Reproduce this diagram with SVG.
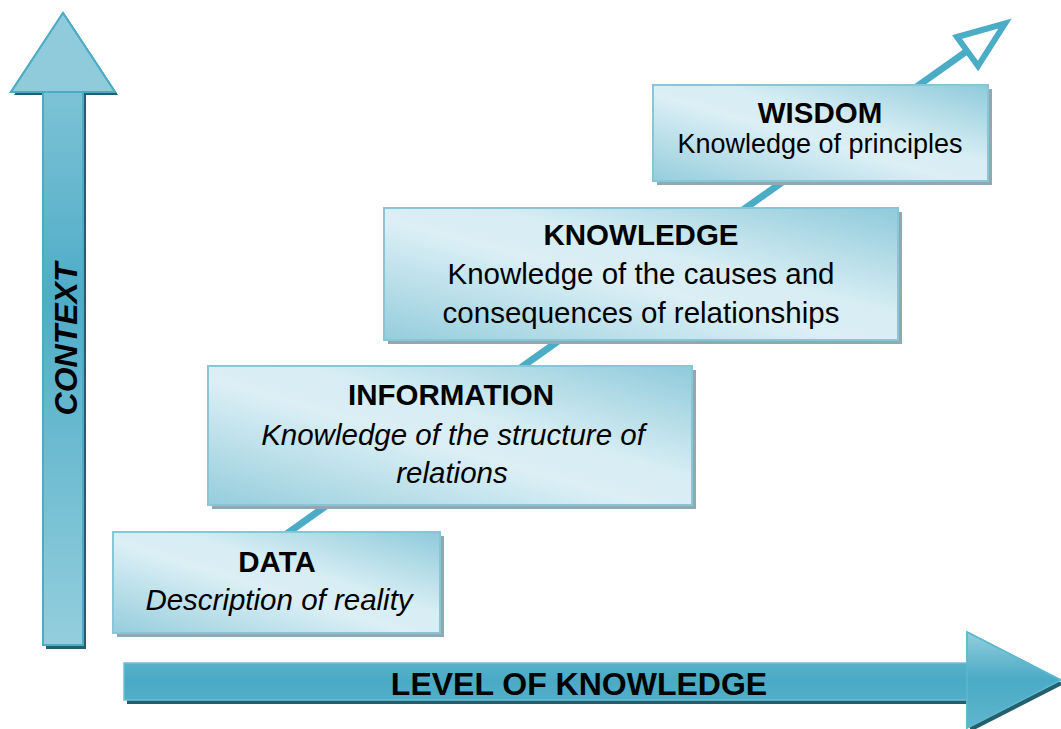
<svg xmlns="http://www.w3.org/2000/svg" width="1061" height="729" viewBox="0 0 1061 729">
<defs>
<linearGradient id="boxg" x1="0" y1="1" x2="1" y2="0">
<stop offset="0" stop-color="#95cddc"/>
<stop offset="0.45" stop-color="#dbeff5"/>
<stop offset="0.6" stop-color="#d6edf3"/>
<stop offset="1" stop-color="#8fcadb"/>
</linearGradient>
<linearGradient id="vshaft" x1="0" y1="0" x2="0" y2="1">
<stop offset="0" stop-color="#8ecbdb"/>
<stop offset="0.45" stop-color="#4eacc7"/>
<stop offset="1" stop-color="#93cedd"/>
</linearGradient>
<linearGradient id="hshaft" x1="0" y1="0" x2="0" y2="1">
<stop offset="0" stop-color="#70bfd4"/>
<stop offset="0.5" stop-color="#4aaac5"/>
<stop offset="1" stop-color="#5cb4cc"/>
</linearGradient>
<linearGradient id="hhead" x1="0" y1="0" x2="0" y2="1">
<stop offset="0" stop-color="#93cedd"/>
<stop offset="0.5" stop-color="#4aaac5"/>
<stop offset="1" stop-color="#5fb6cd"/>
</linearGradient>
</defs>
<style>
.shadow{fill:#90a9b0}
.box{fill:url(#boxg);stroke:#86c6d7;stroke-width:2}
.ashadow{fill:#235f6c}
.t{font-family:"Liberation Sans",Arial,sans-serif;font-size:29.5px;fill:#000;text-anchor:middle}
.b{font-weight:bold}
.i{font-style:italic}
</style>

<g id="axis-context">
<polygon class="ashadow" points="66,16 118,95 86,95 86,649 46,649 46,95 14,95"/>
<polygon points="63,13 115,92 83,92 83,645 43,645 43,92 11,92" fill="url(#vshaft)" stroke="#4bacc6" stroke-width="2"/>
<polygon points="63,13 115,92 11,92" fill="#8fcbdb" stroke="#4bacc6" stroke-width="2"/>
<text class="t b i" transform="translate(77,339) rotate(-90)" style="font-size:32px">CONTEXT</text>
</g>

<g id="axis-level">
<polygon class="ashadow" points="127,667 970,667 970,636 1064,684 970,732 970,704 127,704"/>
<polygon points="124,663 967,663 967,632 1061,680 967,728 967,700 124,700" fill="url(#hshaft)" stroke="#6cc0d5" stroke-width="1.5"/>
<polygon points="967,632 1061,680 967,728" fill="url(#hhead)" stroke="#5cb8ce" stroke-width="1.5"/>
<text class="t b" x="579" y="695" style="font-size:32px">LEVEL OF KNOWLEDGE</text>
</g>

<g id="connectors">
<line x1="285" y1="535" x2="967" y2="51" stroke="#4bacc6" stroke-width="7"/>
<polygon points="957,37 1005,23.5 978,66" fill="#fff" stroke="#4bacc6" stroke-width="6" stroke-linejoin="miter"/>
</g>

<g id="node-data">
<rect class="shadow" x="117" y="536" width="327" height="101"/>
<rect class="box" x="113" y="532" width="327" height="101"/>
<text class="t b" x="277" y="572">DATA</text>
<text class="t i" x="279" y="610">Description of reality</text>
</g>

<g id="node-information">
<rect class="shadow" x="212" y="370" width="484" height="139"/>
<rect class="box" x="208" y="366" width="484" height="139"/>
<text class="t b" x="451" y="405">INFORMATION</text>
<text class="t i" x="453" y="445">Knowledge of the structure of</text>
<text class="t i" x="452" y="483">relations</text>
</g>

<g id="node-knowledge">
<rect class="shadow" x="388" y="212" width="514" height="132"/>
<rect class="box" x="384" y="208" width="514" height="132"/>
<text class="t b" x="641" y="245">KNOWLEDGE</text>
<text class="t" x="641" y="284">Knowledge of the causes and</text>
<text class="t" x="641" y="323">consequences of relationships</text>
</g>

<g id="node-wisdom">
<rect class="shadow" x="657" y="89" width="335" height="96"/>
<rect class="box" x="653" y="85" width="335" height="96"/>
<text class="t b" x="820" y="123">WISDOM</text>
<text class="t" x="820" y="153" style="font-size:27px">Knowledge of principles</text>
</g>
</svg>
